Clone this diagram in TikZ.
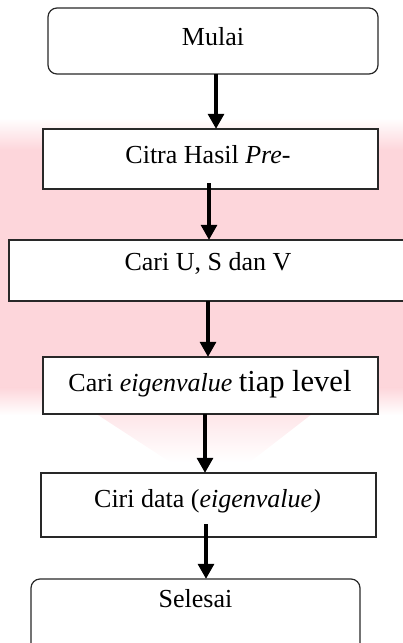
\documentclass[tikz,border=0pt]{standalone}
\usepackage{fontspec}
\setmainfont{Liberation Serif}
\usetikzlibrary{arrows.meta}
\definecolor{pinkbg}{RGB}{253,214,219}
\definecolor{boxline}{RGB}{40,40,40}
\tikzset{
  boxrect/.style={draw=boxline, line width=1.2pt, fill=white},
  lbl/.style={anchor=base, inner sep=0pt, font=\fontsize{26}{30}\selectfont},
  arr/.style={line width=3.2pt, -{Triangle[length=15pt,width=16pt]}},
}
\begin{document}
\begin{tikzpicture}[x=1pt,y=-1pt]
\useasboundingbox (0,0) rectangle (403,643);
% faint watermark background
\shade[top color=white, bottom color=pinkbg] (0,118) rectangle (403,150);
\fill[pinkbg] (0,149.5) rectangle (403,388);
\shade[top color=pinkbg, bottom color=white] (0,387.5) rectangle (403,415);
\shade[top color=pinkbg!80!white, bottom color=white] (75,400) -- (330,400) -- (250,462) -- (170,462) -- cycle;
% boxes
\draw[boxrect, rounded corners=9pt] (48,8) rectangle (378,74);
\node[inner sep=0pt, minimum width=330pt, minimum height=66pt] (mulai) at (213,41) {};
\draw[boxrect] (43,129) rectangle (378,189);
\node[inner sep=0pt, minimum width=335pt, minimum height=60pt] (citra) at (210.5,159) {};
\draw[boxrect] (9,240) rectangle (420,301);
\node[inner sep=0pt, minimum width=411pt, minimum height=61pt] (usv) at (214.5,270.5) {};
\draw[boxrect] (43,357) rectangle (378,414);
\node[inner sep=0pt, minimum width=335pt, minimum height=57pt] (eig) at (210.5,385.5) {};
\draw[boxrect] (41,473) rectangle (376,537);
\node[inner sep=0pt, minimum width=335pt, minimum height=64pt] (ciri) at (208.5,505) {};
\draw[boxrect, rounded corners=9pt] (31,579) rectangle (360,655);
\node[inner sep=0pt, minimum width=329pt, minimum height=76pt] (selesai) at (195.5,617) {};
% texts
\node[lbl] (tmulai) at (213,45) {Mulai};
\node[lbl] (tcitra) at (208,163) {Citra Hasil \textit{Pre-}};
\node[lbl] (tusv) at (208,270) {Cari U, S dan V};
\node[lbl] (teig) at (210,391) {Cari \textit{eigenvalue} {\fontsize{30.5}{34}\selectfont tiap level}};
\node[lbl] (tciri) at (207.5,507) {Ciri data ({\itshape eigenvalue)}};
\node[lbl] (tsel) at (195.5,607) {Selesai};
% connectors
\draw[arr] ([xshift=3pt]mulai.south) -- ([xshift=3pt]mulai.south |- citra.north);
\draw[arr] ([xshift=-1.5pt,yshift=6pt]citra.south) -- ([xshift=-1.5pt]citra.south |- usv.north);
\draw[arr] ([xshift=-6.5pt]usv.south) -- ([xshift=-6.5pt]usv.south |- eig.north);
\draw[arr] ([xshift=-5.5pt]eig.south) -- ([xshift=-5.5pt]eig.south |- ciri.north);
\draw[arr] ([xshift=-2.5pt,yshift=13pt]ciri.south) -- ([xshift=-2.5pt]ciri.south |- selesai.north);
\end{tikzpicture}
\end{document}
